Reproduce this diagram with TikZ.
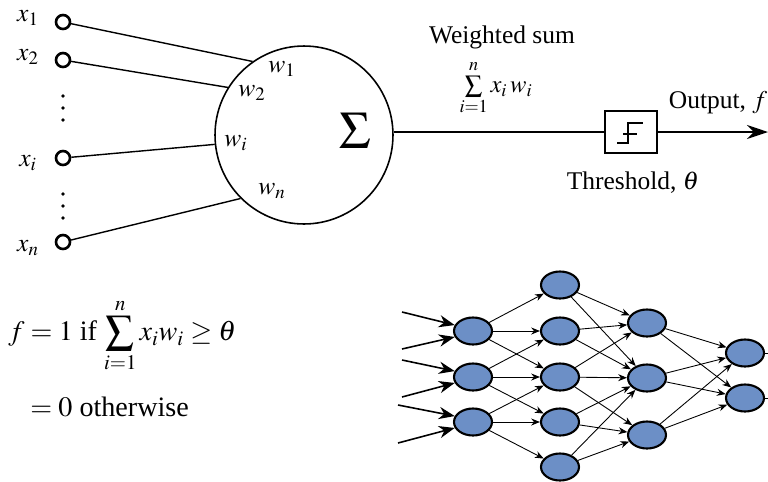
\documentclass[tikz,border=0pt]{standalone}
\usepackage{mathptmx}
\usepackage{fontspec}
\setmainfont{Liberation Serif}
\usetikzlibrary{shapes.geometric,arrows.meta}
\definecolor{nodeblue}{RGB}{108,143,198}
\tikzset{
  inpt/.style={circle,draw,line width=1.5pt,inner sep=0pt,minimum size=0.28cm,fill=white},
  wire/.style={line width=0.8pt},
  lbl/.style={font=\fontsize{14.5}{17}\selectfont,inner sep=0pt},
  neuron/.style={ellipse,draw,line width=1.2pt,fill=nodeblue,minimum width=0.76cm,minimum height=0.54cm,inner sep=0pt},
  link/.style={line width=0.5pt,-{Stealth[length=5pt,width=4pt]}},
  inarrow/.style={line width=0.9pt,-{Stealth[length=9pt,width=7pt]}},
}
\begin{document}
\begin{tikzpicture}[x=0.02cm,y=-0.02cm]
\useasboundingbox (0,0) rectangle (768,481);
% inputs
\node[inpt] (x1) at (63,22) {};
\node[inpt] (x2) at (63,60) {};
\node[inpt] (xi) at (63,158) {};
\node[inpt] (xn) at (63,242) {};
\node[lbl] (lx1) at (28,18) {$x_1$};
\node[lbl] (lx2) at (28,57) {$x_2$};
\node[lbl] (lxi) at (28,163) {$x_i$};
\node[lbl] (lxn) at (28,248) {$x_n$};
\foreach \yy in {96,108,120,194,206,218} \fill (63,\yy) circle (1.1pt);
% neuron
\node[circle,draw,line width=0.9pt,minimum size=3.56cm,inner sep=0pt] (big) at (304,135) {};
\node[font=\fontsize{30}{32}\selectfont,inner sep=0pt] (sig) at (355,131) {$\Sigma$};
\draw[wire] (x1) -- (big.125);
\draw[wire] (x2) -- (big.148);
\draw[wire] (xi) -- (big.186);
\draw[wire] (xn) -- (big.225);
\node[lbl] (w1) at (282,69) {$w_1$};
\node[lbl] (w2) at (252,93) {$w_2$};
\node[lbl] (wi) at (236,143) {$w_i$};
\node[lbl] (wn) at (272,191) {$w_n$};
% output path
\node[draw,line width=0.8pt,minimum width=1.04cm,minimum height=0.84cm,inner sep=0pt] (box) at (631,132) {};
\draw[line width=0.7pt] (617,143) -- (628,143) -- (628,123) -- (643,123);
\draw[line width=0.7pt] (623,134) -- (637,134);
\draw[wire] (big.east |- box.west) -- (box.west);
\coordinate (outend) at (768,132);
\draw[wire,-{Stealth[length=12pt,width=8pt]}] (box.east) -- (outend);
\node[lbl] (ws) at (502,37) {Weighted sum};
\node[lbl,font=\fontsize{14}{16}\selectfont] (wsf) at (496,88) {$\sum\limits_{i=1}^{n} x_i\,w_i$};
\node[lbl] (outl) at (718,103) {Output, $f$};
\node[lbl] (thr) at (633,183) {Threshold, $\theta$};
% formula
\node[font=\fontsize{16}{19}\selectfont,inner sep=0pt,anchor=west] (f1) at (8,336) {$f=1$ if $\displaystyle\sum_{i=1}^{n} x_i w_i \ge \theta$};
\node[font=\fontsize{16}{19}\selectfont,inner sep=0pt,anchor=west] (f2) at (30,407) {$=0$ otherwise};
% network
\node[neuron] (a1) at (473,331) {};
\node[neuron] (a2) at (473,377) {};
\node[neuron] (a3) at (473,422) {};
\node[neuron] (b1) at (560,285) {};
\node[neuron] (b2) at (560,331) {};
\node[neuron] (b3) at (560,377) {};
\node[neuron] (b4) at (560,422) {};
\node[neuron] (b5) at (560,467) {};
\node[neuron] (c1) at (647,323) {};
\node[neuron] (c2) at (647,378) {};
\node[neuron] (c3) at (647,435) {};
\node[neuron] (d1) at (745,353) {};
\node[neuron] (d2) at (745,398) {};
\foreach \s/\t in {a1/b1,a1/b2,a1/b3,a2/b2,a2/b3,a2/b4,a3/b3,a3/b4,a3/b5,
  b1/c1,b1/c2,b2/c1,b2/c2,b3/c1,b3/c2,b3/c3,b4/c2,b4/c3,b5/c2,b5/c3,
  c1/d1,c1/d2,c2/d1,c2/d2,c3/d1,c3/d2}
  \draw[link] (\s) -- (\t);
\coordinate (s1) at (402,312);
\coordinate (s2) at (402,349);
\coordinate (s3) at (402,360);
\coordinate (s4) at (402,397);
\coordinate (s5) at (398,405);
\coordinate (s6) at (398,443);
\draw[inarrow] (s1) -- (a1.162);
\draw[inarrow] (s2) -- (a1.198);
\draw[inarrow] (s3) -- (a2.162);
\draw[inarrow] (s4) -- (a2.198);
\draw[inarrow] (s5) -- (a3.162);
\draw[inarrow] (s6) -- (a3.198);
\coordinate (e1) at (768,353);
\coordinate (e2) at (768,398);
\draw[line width=0.5pt] (d1.east) -- (e1);
\draw[line width=0.5pt] (d2.east) -- (e2);
\end{tikzpicture}
\end{document}
